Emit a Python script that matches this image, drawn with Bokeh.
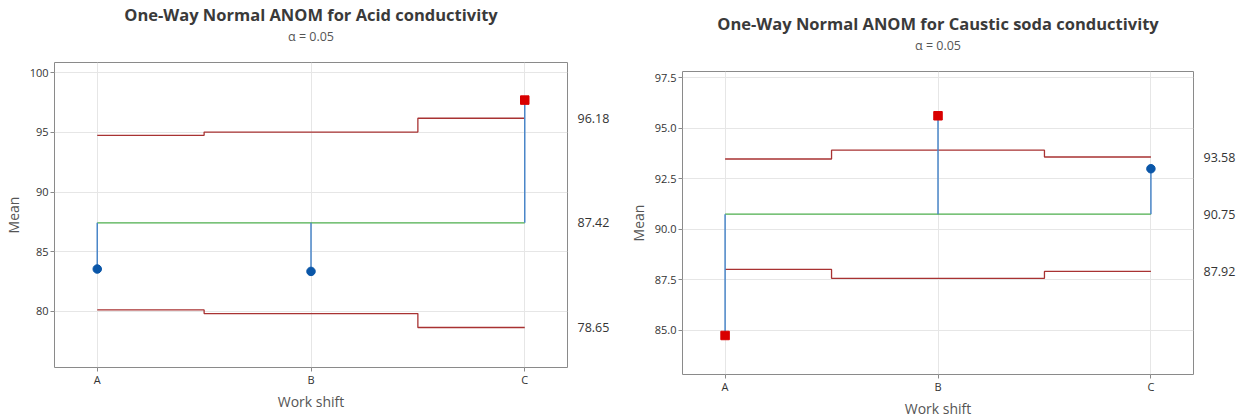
from bokeh.plotting import figure
from bokeh.layouts import row, column
from bokeh.models import FixedTicker, LinearAxis, Range1d, NumeralTickFormatter, Title, Spacer
from bokeh.embed import file_html
from bokeh.resources import INLINE

shifts = ["A", "B", "C"]
xpos = [1, 2, 3]

acid_means = [83.55, 83.35, 97.7]
acid_center = 87.42
acid_upper = [94.75, 95.02, 96.18]
acid_lower = [80.12, 79.82, 78.65]
acid_yticks = [80, 85, 90, 95, 100]

caustic_means = [84.75, 95.62, 93.0]
caustic_center = 90.75
caustic_upper = [93.48, 93.92, 93.58]
caustic_lower = [88.02, 87.58, 87.92]
caustic_yticks = [85.0, 87.5, 90.0, 92.5, 95.0, 97.5]

FONT = "Open Sans"
LIMIT = "#A83232"
CENTER = "#4DAE4D"
STEM = "#4A86C8"
BLUE = "#0A56A8"
RED = "#D90000"


def make(title, means, center, upper, lower, yrange, yticks, yfmt,
         fw, fh, bl, br):
    p = figure(output_backend="svg", toolbar_location=None,
               frame_width=fw, frame_height=fh,
               x_range=Range1d(0.8, 3.2), y_range=Range1d(*yrange),
               min_border_left=bl, min_border_right=br,
               min_border_top=53, min_border_bottom=0,
               background_fill_color="white", border_fill_color="white")
    p.add_layout(Title(text=" ", text_font_size="2px", standoff=14), "above")
    p.add_layout(Title(text="α = 0.05", align="center", text_font=FONT,
                       text_font_size="12.5px", text_font_style="normal",
                       text_color="#555555", standoff=0), "above")
    p.add_layout(Title(text=title, align="center", text_font=FONT,
                       text_font_size="16.5px", text_font_style="bold",
                       text_color="#3a3a3a", standoff=0), "above")
    p.outline_line_color = "#8a8a8a"
    p.outline_line_width = 1
    p.grid.grid_line_color = "#e6e6e6"
    p.grid.grid_line_width = 1

    p.xaxis.ticker = FixedTicker(ticks=xpos)
    p.xaxis.major_label_overrides = {x: s for x, s in zip(xpos, shifts)}
    p.yaxis.ticker = FixedTicker(ticks=yticks)
    p.yaxis.formatter = NumeralTickFormatter(format=yfmt)
    for ax in (p.xaxis[0], p.yaxis[0]):
        ax.axis_line_color = None
        ax.minor_tick_line_color = None
        ax.major_tick_line_color = "#8a8a8a"
        ax.major_tick_out = 4
        ax.major_tick_in = 0
        ax.major_label_text_font = FONT
        ax.major_label_text_font_size = "11px"
        ax.major_label_text_color = "#333333"
        ax.axis_label_text_font = FONT
        ax.axis_label_text_font_size = "14px"
        ax.axis_label_text_font_style = "normal"
        ax.axis_label_text_color = "#555555"
    p.xaxis.axis_label = "Work shift"
    p.xaxis.axis_label_standoff = 2
    p.xaxis.major_label_standoff = 0
    p.yaxis.axis_label = "Mean"
    p.yaxis.axis_label_standoff = 4
    p.yaxis.major_label_standoff = 2

    rticks = [lower[-1], center, upper[-1]]
    rax = LinearAxis(ticker=FixedTicker(ticks=rticks),
                     formatter=NumeralTickFormatter(format="0.00"))
    rax.axis_line_color = None
    rax.major_tick_line_color = None
    rax.minor_tick_line_color = None
    rax.major_label_standoff = 4
    rax.major_label_text_font = FONT
    rax.major_label_text_font_size = "12.5px"
    rax.major_label_text_color = "#333333"
    p.add_layout(rax, "right")

    p.step(xpos, upper, mode="center", line_color=LIMIT, line_width=1.3)
    p.step(xpos, lower, mode="center", line_color=LIMIT, line_width=1.3)
    p.line([xpos[0], xpos[-1]], [center, center], line_color=CENTER, line_width=1.3)
    p.segment(x0=xpos, y0=[center] * 3, x1=xpos, y1=means, line_color=STEM, line_width=1.5)

    out = [m > u or m < l for m, u, l in zip(means, upper, lower)]
    xi = [x for x, o in zip(xpos, out) if not o]
    yi = [m for m, o in zip(means, out) if not o]
    xo = [x for x, o in zip(xpos, out) if o]
    yo = [m for m, o in zip(means, out) if o]
    p.scatter(xi, yi, marker="circle", size=8.5, fill_color=BLUE, line_color=BLUE)
    p.scatter(xo, yo, marker="square", size=8.5, fill_color=RED, line_color=RED)
    return p


p1 = make("One-Way Normal ANOM for Acid conductivity", acid_means, acid_center,
          acid_upper, acid_lower, (75.3, 100.85), acid_yticks, "0",
          513, 305, 50, 49)
p2 = make("One-Way Normal ANOM for Caustic soda conductivity", caustic_means, caustic_center,
          caustic_upper, caustic_lower, (82.82, 97.81), caustic_yticks, "0.0",
          511, 303, 66, 35)

layout = row(column(p1), column(Spacer(height=9, width=10), p2, spacing=0), spacing=0)
open("out.html", "w").write(file_html(layout, INLINE))
